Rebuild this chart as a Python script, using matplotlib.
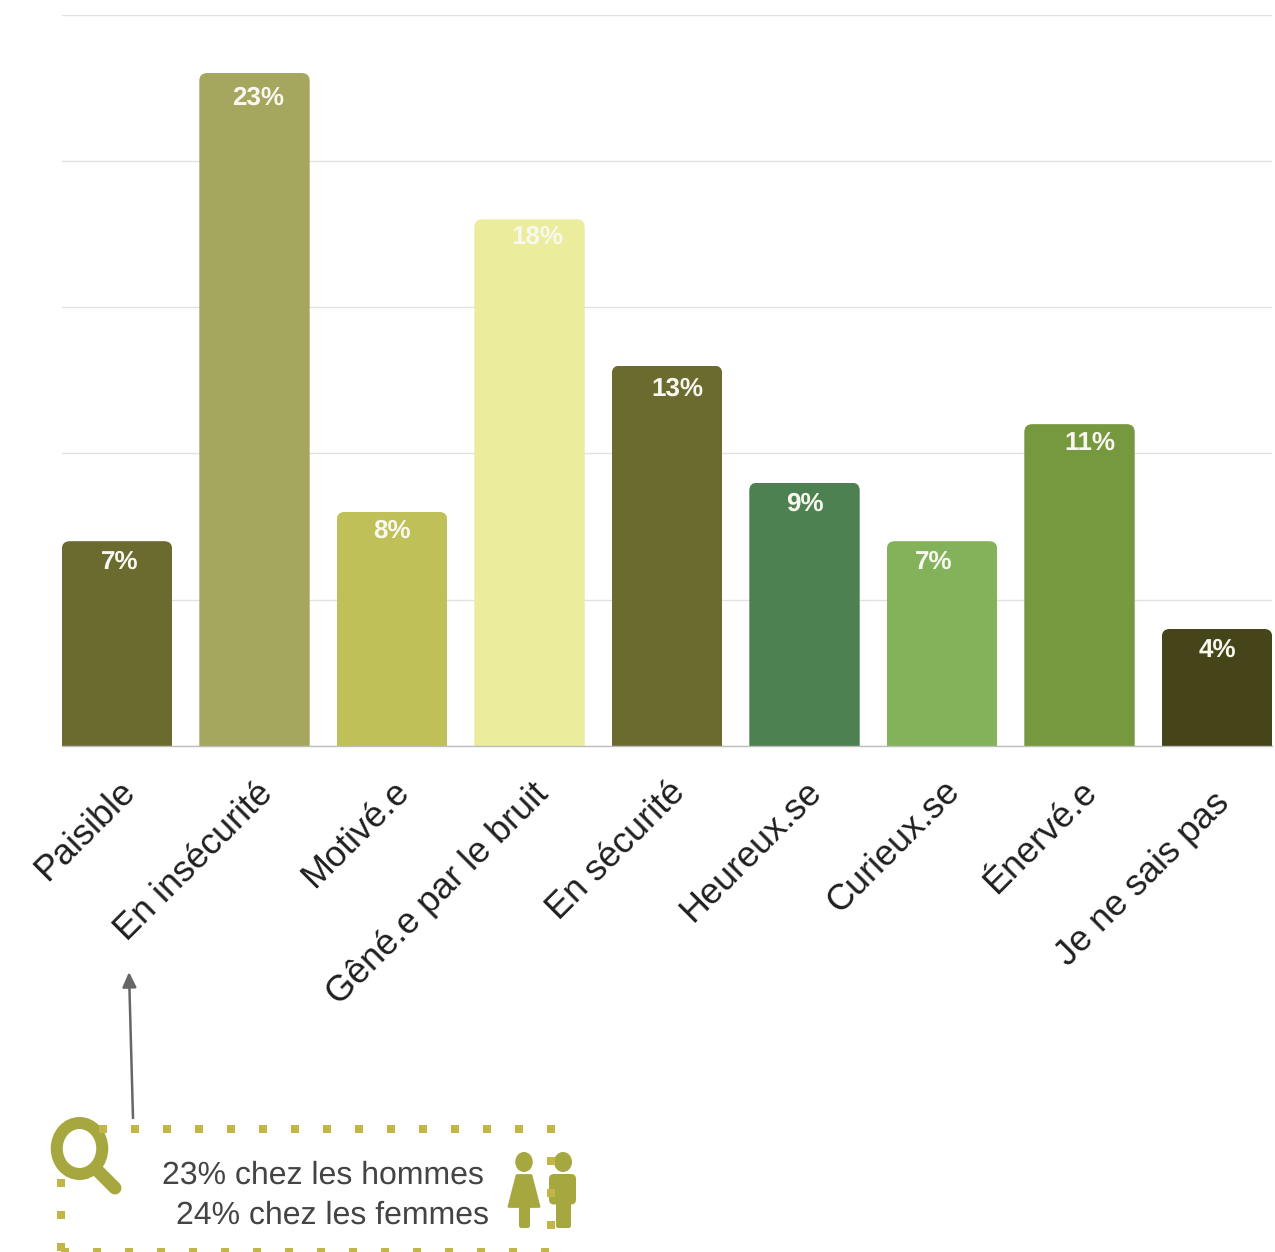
import numpy as np
import matplotlib
matplotlib.use("Agg")
import matplotlib.pyplot as plt
from matplotlib.patches import FancyBboxPatch, Ellipse, Polygon
from matplotlib.transforms import ScaledTranslation

plt.rcParams['font.family'] = ['Liberation Sans', 'DejaVu Sans']
plt.rcParams['text.hinting'] = 'no_hinting'
plt.rcParams['text.hinting_factor'] = 1

categories = ["Paisible", "En insécurité", "Motivé.e", "Gêné.e par le bruit", "En sécurité",
              "Heureux.se", "Curieux.se", "Énervé.e", "Je ne sais pas"]
values = [7, 23, 8, 18, 13, 9, 7, 11, 4]
colors = ["#6b6a2f", "#a6a75e", "#bfc158", "#ebec9c", "#6b6a2f", "#4e8152", "#83b25b", "#76993f", "#464519"]
label_dx = [3, 4, 0, 8, 10, 0, -8, 10, 0]
label_top = [20, 24, 18, 17, 22, 20, 20, 18, 20]
tick_dx = [0, 1, 0, 1, 1, 0, 0, 0, -5]
tick_dy = [-1, -3, -1, -3, -2, -2, -1, -2, -13]
note_lines = ["23% chez les hommes", "24% chez les femmes"]

W, H = 1275, 1252
fig = plt.figure(figsize=(W/100, H/100), dpi=100)
ax = fig.add_axes([62/W, (H-746)/H, 1210/W, 731.5/H])
x = np.arange(len(values))
ax.set_xlim(-0.4, 8.4)
ax.set_ylim(0, 25)
ax.set_yticks(range(0, 30, 5))
ax.set_yticklabels([])
ax.tick_params(length=0)
ax.grid(axis='y', color='#e2e2e2', lw=1)
ax.set_axisbelow(True)
for s in ['top', 'left', 'right']:
    ax.spines[s].set_visible(False)
ax.spines['bottom'].set_color('#bdbdbd')
ax.spines['bottom'].set_linewidth(1)

bars = ax.bar(x, values, width=0.803, color=colors, edgecolor='none', zorder=2)
rx = 8/137.5
ry = 8/29.26
for b, v, dx, top in zip(bars, values, label_dx, label_top):
    clip = FancyBboxPatch((b.get_x(), -2), b.get_width(), v + 2,
                          boxstyle=f"round,pad=0,rounding_size={rx}",
                          mutation_aspect=ry/rx, transform=ax.transData)
    b.set_clip_path(clip)
    ax.annotate(f"{v}%", (b.get_x() + b.get_width()/2, v), xytext=(dx*0.72, -(top + 1)*0.72),
                textcoords='offset points', ha='center', va='center',
                color='#f8f8f0', fontsize=18.5, fontweight='bold', zorder=3)

ax.set_xticks(x)
ax.set_xticklabels(categories, rotation=45, ha='right', va='top', rotation_mode='anchor',
                   fontsize=26, color='#1f1f1f')
for t, tx, ty in zip(ax.get_xticklabels(), tick_dx, tick_dy):
    t.set_transform(t.get_transform() + ScaledTranslation(tx/100, (-22 + ty)/100, fig.dpi_scale_trans))

ov = fig.add_axes([0, 0, 1, 1], zorder=5)
ov.set_xlim(0, W)
ov.set_ylim(H, 0)
ov.axis('off')
ov.patch.set_alpha(0)

dot = '#c3b648'
ms = 8.7*0.72
top_x = np.arange(103, 560, 32)
bot_x = np.arange(65, 550, 32)
ov.plot(top_x, [1129]*len(top_x), 's', color=dot, ms=ms, mew=0)
ov.plot(bot_x, [1252]*len(bot_x), 's', color=dot, ms=ms, mew=0, clip_on=True)
ov.plot([61]*3, [1183, 1215, 1247], 's', color=dot, ms=ms, mew=0)
ov.plot([551]*3, [1161, 1193, 1225], 's', color=dot, ms=ms, mew=0)

ov.annotate("", xy=(129, 972), xytext=(133, 1118),
            arrowprops=dict(arrowstyle='-|>,head_width=0.42,head_length=0.9', color='#666666', lw=1.8,
                            shrinkA=0, shrinkB=0))

ov.text(484, 1175, note_lines[0], ha='right', va='center', fontsize=23, color='#444444')
ov.text(489, 1215, note_lines[1], ha='right', va='center', fontsize=23, color='#444444')

ic = '#a6a83f'
ov.add_patch(Ellipse((79.5, 1148.5), 45.5, 51, fill=False, ec=ic, lw=12*0.72))
ov.plot([99, 115], [1172, 1188], color=ic, lw=13*0.72, solid_capstyle='round')

def rbox(x0, y0, x1, y1, r):
    ov.add_patch(FancyBboxPatch((x0, y0), x1 - x0, y1 - y0,
                                boxstyle=f"round,pad=0,rounding_size={r}", fc=ic, ec='none'))

ov.add_patch(Ellipse((524, 1162), 17.5, 20, fc=ic, ec='none'))
ov.add_patch(Polygon([(517, 1175.5), (531, 1175.5), (539, 1206.5), (509, 1206.5)], closed=True,
                     fc=ic, ec=ic, lw=2, joinstyle='round'))
rbox(519, 1200, 530, 1228, 2.5)
ov.add_patch(Ellipse((563, 1162), 18, 20, fc=ic, ec='none'))
rbox(549, 1174, 576, 1204.5, 5)
rbox(556, 1198, 571, 1228, 2.5)

fig.savefig("out.png", dpi=100, facecolor='white')
